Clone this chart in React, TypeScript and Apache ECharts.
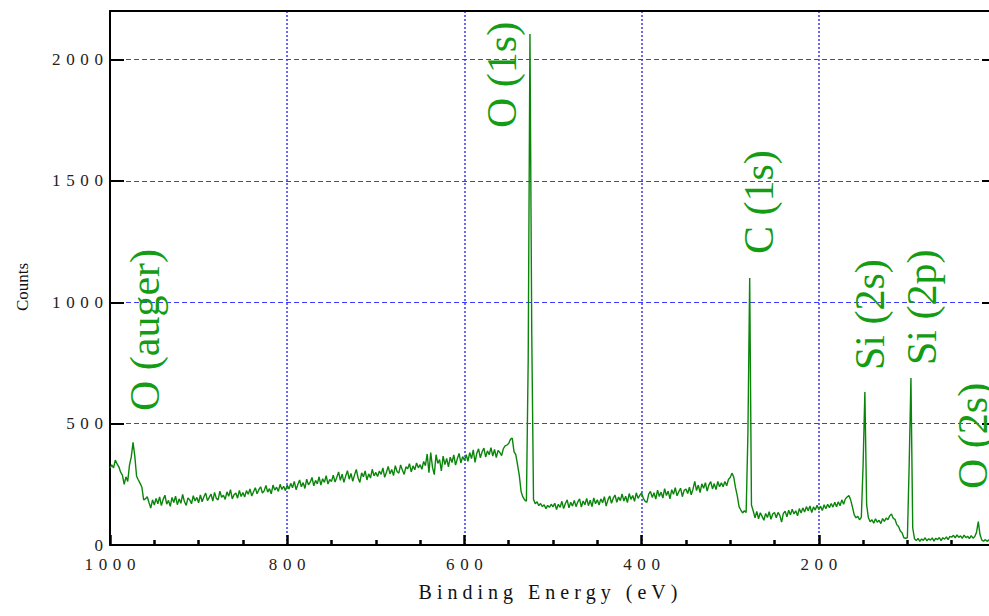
import { useEffect, useRef } from "react";
import * as echarts from "echarts";

// Sampling of the survey spectrum (binding energy, eV)
const energyStart = 1000;
const energyStep = 2;

// Counts, from 1000 eV down to 0 eV, every 2 eV
const countsAugerRegion = [
  317, 330, 318, 350, 334, 322, 300, 288, 250, 281, 262, 329, 363, 423, 366, 283, 268, 254, 238, 186, 190, 199, 175, 152, 186,
  165, 192, 170, 198, 162, 188, 205, 168, 184, 159, 196, 175, 201, 166, 190, 172, 208, 179, 163, 194, 186, 170, 203, 181, 196, 174,
];
const countsHighBackground = [
  206, 178, 199, 214, 183, 196, 210, 181, 217, 192, 186, 222, 197, 205, 188, 219, 201, 228, 190, 207, 214, 193, 225, 200, 216,
  198, 224, 209, 231, 202, 219, 236, 211, 228, 240, 214, 223, 245, 218, 232, 211, 247, 226, 238, 221, 250, 229, 242, 224, 246,
  231, 254, 236, 262, 228, 249, 268, 240, 257, 233, 271, 248, 259, 278, 244, 266, 252, 281, 247, 273, 258, 286, 251, 270, 262,
  288, 259, 279, 301, 266, 292, 258, 284, 306, 271, 295, 262, 289, 311, 276, 258, 297, 281, 305, 268, 293, 276, 312, 285, 299,
  282, 305, 291, 318, 279, 300, 324, 293, 311, 286, 327, 303, 296, 330, 309, 291, 322, 314, 335, 301, 326, 310, 338, 318, 331,
  312, 344, 327, 375, 298, 381, 320, 290, 372, 336, 352, 305, 366, 331, 357, 322, 362, 340, 371, 329, 355, 377, 338, 364, 349,
  372, 345, 381, 356, 392, 340, 378, 396, 359, 384, 399, 362, 388, 372, 401, 366, 394, 360, 390, 381, 368, 397, 408, 412,
];
const countsO1sRegion = [
  418, 436, 440, 385, 372, 330, 286, 220, 198, 186, 180, 760, 2105, 880, 188, 170, 178, 162, 171, 158, 166, 150, 163, 155, 168, 157,
];
const countsMidBackground = [
  172, 146, 168, 155, 180, 150, 171, 186, 153, 176, 160, 184, 158, 178, 190, 156, 181, 166, 192, 162, 185, 158, 194, 170, 186,
  165, 190, 174, 199, 160, 186, 202, 172, 193, 206, 176, 198, 183, 210, 181, 201, 175, 212, 188, 204, 180, 215, 192, 205, 214,
  192, 180, 176, 210, 221, 196, 215, 189, 226, 200, 218, 193, 232, 204, 222, 190, 228, 209, 236, 203, 220, 234, 199, 225, 231,
  212, 238, 207, 230, 262, 224, 247, 216, 252, 234, 257, 222, 248, 261, 231, 253, 228, 262, 240, 256,
];
const countsC1sRegion = [
  240, 262, 244, 270, 278, 296, 280, 236, 202, 158, 144, 132, 141, 134, 460, 1100, 165, 140, 112, 138, 108, 133, 118, 102, 130,
  113, 137, 106, 128, 134,
  112, 134, 122, 94, 130, 139, 116, 143, 124, 147, 128, 141, 120, 150, 132, 153, 136, 158, 141, 161, 134, 157, 144, 164, 146,
  160, 142, 166, 149, 168, 154, 171, 156, 176,
];
const countsSiRegion = [
  158, 178, 162, 186, 168, 190, 198, 204, 185, 156, 124, 112, 118, 104, 114, 330,
  630, 165, 112, 96, 104, 90, 108, 94, 102, 88, 109, 97, 111, 104, 120, 128, 110, 106, 84, 76, 58, 50, 30, 28, 30,
  330, 688, 70, 26, 18, 27, 15, 25, 19, 30, 17, 26, 20, 29, 16, 28, 22, 31, 18, 30, 24, 33, 22, 36,
];
const countsLowRegion = [
  32, 40, 29, 42, 31, 38, 27, 41, 30, 36, 26, 39, 28, 35, 52, 96, 42, 20, 16, 22, 15, 21, 17, 20, 16, 18,
];

const counts = [
  ...countsAugerRegion,
  ...countsHighBackground,
  ...countsO1sRegion,
  ...countsMidBackground,
  ...countsC1sRegion,
  ...countsSiRegion,
  ...countsLowRegion,
];

// Axis values
const xMin = 0;
const xMax = 1000;
const xMajor = 200;
const yMin = 0;
const yMax = 2200;
const yMajor = 500;
const yMinor = 100;

// Peak annotations
const peakNames = ["O (auger)", "O (1s)", "C (1s)", "Si (2s)", "Si (2p)", "O (2s)"];
const xTitle = "Binding Energy (eV)";
const yTitle = "Counts";

const serif = '"Liberation Serif", "Times New Roman", Times, serif';

function spaced(s: string, sep: string) {
  return s
    .split("")
    .map((c) => (c === " " ? "\u00A0" : c))
    .join(sep);
}

export default function App() {
  const ref = useRef<HTMLDivElement | null>(null);

  useEffect(() => {
    document.body.style.margin = "0";
    if (!ref.current) return;
    const chart = echarts.init(ref.current, undefined, { renderer: "svg" });

    const data = counts.map((c, i) => [energyStart - i * energyStep, c]);

    const peakPos = [
      [145, 411],
      [502, 128],
      [759, 254],
      [870, 370],
      [922, 365],
      [973, 489],
    ];

    const tickLabelStyle = {
      fontFamily: serif,
      fontSize: 17,
      color: "#222",
    };

    const option: any = {
      animation: false,
      backgroundColor: "#ffffff",
      grid: { left: 110, top: 11, width: 886, height: 534, containLabel: false },
      xAxis: [
        {
          type: "value",
          position: "bottom",
          inverse: true,
          min: xMin,
          max: xMax,
          interval: xMajor,
          axisLine: { show: true, onZero: false, lineStyle: { color: "#000", width: 2 } },
          axisTick: { show: true, inside: true, length: 10, lineStyle: { color: "#000", width: 2.5 } },
          minorTick: { show: true, splitNumber: 4, length: 5, lineStyle: { color: "#000", width: 2.5 } },
          axisLabel: {
            show: true,
            margin: 11,
            showMinLabel: false,
            ...tickLabelStyle,
            formatter: (v: number) => spaced(String(v), "\u2004"),
          },
          splitLine: { show: true, lineStyle: { color: "#3a3af4", width: 1.5, type: [2, 2] } },
        },
        {
          type: "value",
          position: "top",
          inverse: true,
          min: xMin,
          max: xMax,
          interval: xMajor,
          axisLine: { show: true, onZero: false, lineStyle: { color: "#000", width: 2 } },
          axisTick: { show: false },
          axisLabel: { show: false },
          splitLine: { show: false },
        },
      ],
      yAxis: [
        {
          type: "value",
          position: "left",
          min: yMin,
          max: yMax,
          interval: yMajor,
          axisLine: { show: true, onZero: false, lineStyle: { color: "#000", width: 2 } },
          axisTick: { show: true, inside: true, length: 14, lineStyle: { color: "#000", width: 2 } },
          axisLabel: {
            show: true,
            margin: 7,
            showMaxLabel: false,
            ...tickLabelStyle,
            formatter: (v: number) => spaced(String(v), "\u2004"),
          },
          splitLine: { show: true, lineStyle: { color: "#3c3cff", width: 1, type: [5, 3] } },
        },
        {
          type: "value",
          position: "left",
          min: yMin,
          max: yMax,
          interval: yMinor,
          axisLine: { show: false },
          axisTick: { show: true, inside: true, length: 7, lineStyle: { color: "#000", width: 2 } },
          axisLabel: { show: false },
          splitLine: { show: false },
        },
        {
          type: "value",
          position: "right",
          min: yMin,
          max: yMax,
          interval: yMajor,
          axisLine: { show: true, onZero: false, lineStyle: { color: "#000", width: 2 } },
          axisTick: { show: true, inside: true, length: 14, lineStyle: { color: "#000", width: 2 } },
          axisLabel: { show: false },
          splitLine: { show: false },
        },
        {
          type: "value",
          position: "right",
          min: yMin,
          max: yMax,
          interval: yMinor,
          axisLine: { show: false },
          axisTick: { show: true, inside: true, length: 7, lineStyle: { color: "#000", width: 2 } },
          axisLabel: { show: false },
          splitLine: { show: false },
        },
      ],
      series: [
        {
          type: "line",
          xAxisIndex: 0,
          yAxisIndex: 0,
          data,
          showSymbol: false,
          symbol: "none",
          lineStyle: { color: "#0a850a", width: 1.4 },
          itemStyle: { color: "#0a850a" },
          z: 3,
        },
      ],
      graphic: [
        ...peakNames.map((name, i) => ({
          type: "text",
          x: peakPos[i][0],
          y: peakPos[i][1],
          rotation: Math.PI / 2,
          z: 10,
          style: {
            text: name,
            font: `42px ${serif}`,
            fill: "#149c14",
            textAlign: "left",
            textVerticalAlign: "middle",
            align: "left",
            verticalAlign: "middle",
          },
        })),
        {
          type: "text",
          x: 22,
          y: 287,
          rotation: Math.PI / 2,
          style: {
            text: yTitle,
            font: `17px ${serif}`,
            fill: "#111",
            textAlign: "center",
            textVerticalAlign: "middle",
            align: "center",
            verticalAlign: "middle",
          },
        },
        {
          type: "text",
          x: 548,
          y: 592,
          style: {
            text: spaced(xTitle, "\u00A0"),
            font: `20px ${serif}`,
            fill: "#111",
            textAlign: "center",
            textVerticalAlign: "middle",
            align: "center",
            verticalAlign: "middle",
          },
        },
      ],
    };

    chart.setOption(option);
    return () => {
      chart.dispose();
    };
  }, []);

  return (
    <div style={{ width: 989, height: 616, overflow: "hidden", position: "relative" }}>
      <div ref={ref} style={{ width: 1000, height: 616 }} />
    </div>
  );
}
